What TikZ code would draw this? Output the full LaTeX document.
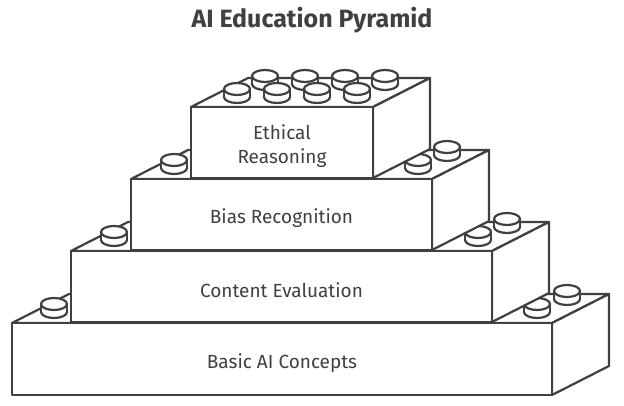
\documentclass[tikz,border=0pt]{standalone}
\usepackage{fontspec}
\setmainfont{Fira Sans}
\begin{document}
\begin{tikzpicture}[x=1pt,y=-1pt,
  ln/.style={draw=black!75,line width=2.2pt,line join=round,fill=white},
  lbl/.style={text=black!75,font=\fontsize{19}{24}\selectfont,align=center,yshift=-4pt}]
\useasboundingbox (0,0) rectangle (624,406);
\def\stud#1#2{%
  \path[ln] (#1,#2) ellipse[x radius=13,y radius=6];
  \fill[white] (#1-12,#2-8) rectangle (#1+12,#2);
  \draw[ln] (#1-13,#2-8) -- (#1-13,#2) (#1+13,#2-8) -- (#1+13,#2);
  \path[ln] (#1,#2-8) ellipse[x radius=13,y radius=6];}
\def\brick#1#2#3#4#5#6{%
  \path[ln] (#1,#2) -- ++(57,-29) -- (#3+57,#2-29) -- (#3,#2) -- cycle;
  \path[ln] (#3,#2) -- ++(57,-29) -- (#3+57,#4-29) -- (#3,#4) -- cycle;
  \node[ln,minimum width=#3-#1,minimum height=#4-#2,inner sep=0pt] (#5) at ({(#1+#3)/2},{(#2+#4)/2}) {};
  \node[lbl] (#5t) at (#5) {#6};}
\node[text=black!75,font=\bfseries\fontsize{25}{30}\selectfont] (title) at (312,20) {AI Education Pyramid};
\brick{12}{323}{552}{395}{b1}{Basic AI Concepts}
\stud{54}{312}\stud{567}{299}\stud{537}{312}
\brick{71}{251}{492}{322}{b2}{Content Evaluation}
\stud{114}{240}\stud{507}{227}\stud{478}{240}
\brick{131}{179}{432}{250}{b3}{Bias Recognition}
\stud{174}{168}\stud{447}{155}\stud{418}{168}
\brick{191}{107}{373}{178}{b4}{Ethical\\Reasoning}
\stud{265}{84}\stud{305}{84}\stud{345}{84}\stud{385}{84}
\stud{237}{97}\stud{277}{97}\stud{317}{97}\stud{357}{97}
\end{tikzpicture}
\end{document}
